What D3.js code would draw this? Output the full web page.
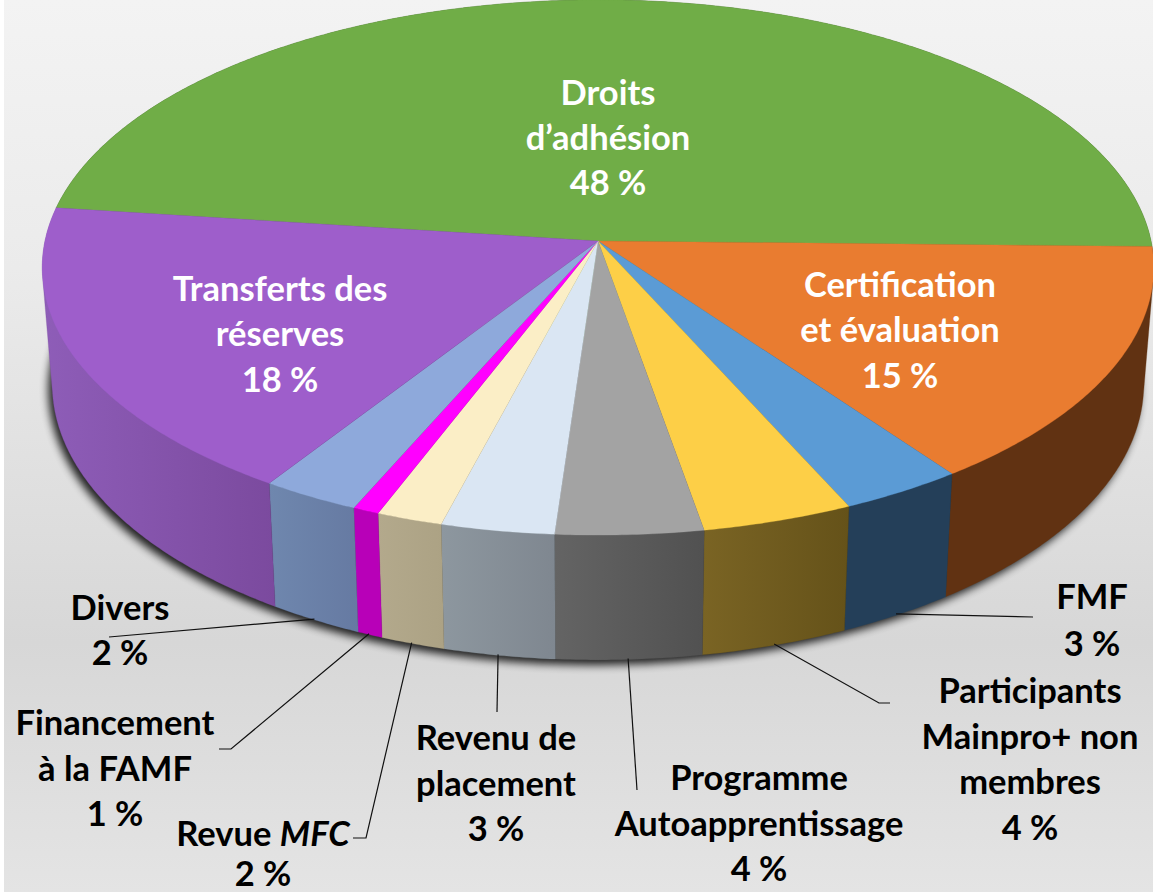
<!DOCTYPE html>
<html><head><meta charset="utf-8">
<script src="https://cdnjs.cloudflare.com/ajax/libs/d3/7.8.5/d3.min.js"></script>
<style>html,body{margin:0;padding:0;background:#fff}svg{display:block}text{font-family:Lato,Carlito,sans-serif;font-weight:700;text-anchor:middle}</style>
</head><body><div id="chart"></div>
<script>
const categories = ["Droits d’adhésion","Certification et évaluation","FMF","Participants Mainpro+ non membres","Programme Autoapprentissage","Revenu de placement","Revue MFC","Financement à la FAMF","Divers","Transferts des réserves"];
const values = [48.3,14.65,3.25,4,3.9,3,1.75,0.7,2.6,17.85];
const percentLabels = ["48 %","15 %","3 %","4 %","4 %","3 %","2 %","1 %","2 %","18 %"];
const topColors = ["#70ad47","#e97c30","#5b9bd5","#fdcf47","#a3a3a3","#dae6f3","#fbeec6","#ff00ff","#8ea9db","#9e5ecb"];
const wallLeft = ["#3d6027","#613212","#243f59","#7a6424","#646464","#8d979f","#b3a98c","#b800b8","#6f87ae","#8e5db8"];
const wallRight = ["#3d6027","#613212","#243f59","#655219","#515151","#7f8790","#aca284","#b800b8","#667aa2","#7b4a9e"];

const W=1153,H=892,apex=[598,241],A=553,B=265,K=0.099;
const svg=d3.select("#chart").append("svg").attr("width",W).attr("height",H);
const defs=svg.append("defs");
const bg=defs.append("linearGradient").attr("id","bg").attr("x1",0).attr("x2",0).attr("y1",0).attr("y2",1);
[[0,"#f3f3f3"],[0.3,"#ebebeb"],[0.72,"#d7d7d7"],[1,"#e4e4e4"]].forEach(s=>bg.append("stop").attr("offset",s[0]).attr("stop-color",s[1]));
defs.append("filter").attr("id","blur").attr("x","-10%").attr("y","-10%").attr("width","120%").attr("height","120%")
  .append("feGaussianBlur").attr("stdDeviation",4.5);
svg.append("rect").attr("width",W).attr("height",H).attr("fill","#fff");
svg.append("rect").attr("x",4).attr("width",W-4).attr("height",H).attr("fill","url(#bg)");

const rad=d3.scaleLinear().domain([0,360]).range([0,2*Math.PI]);
const pie=d3.pie().sort(null).value(d=>d).startAngle(rad(-82.7)).endAngle(rad(277.3));
const arcs=pie(values);
function project(a){const u=Math.sin(a),v=-Math.cos(a),w=1-K*v;return [A*u/w,B*v/w];}
function topPt(a){const p=project(a);return [apex[0]+p[0],apex[1]+p[1]];}
function basePt(a){const p=project(a);return [apex[0]+0.982*p[0],apex[1]+1.03*p[1]+116];}
const line=d3.line();
function samples(a0,a1){const n=Math.max(2,Math.ceil((a1-a0)/rad(0.5)));return d3.range(n+1).map(i=>a0+(a1-a0)*i/n);}

// shadow
const whole=samples(rad(-90),rad(270));
svg.append("path").attr("d",line(whole.map(basePt))+"Z").attr("fill","#000").attr("opacity",0.85)
  .attr("transform","translate(-4,5)").attr("filter","url(#blur)");

// walls: hull of each slice's top and base rim, so the side silhouettes are straight
arcs.forEach((d,i)=>{
  const g=defs.append("linearGradient").attr("id","w"+i);
  g.append("stop").attr("offset",0).attr("stop-color",wallLeft[i]);
  g.append("stop").attr("offset",1).attr("stop-color",wallRight[i]);
  const s=samples(d.startAngle,d.endAngle);
  const pts=d3.polygonHull(s.map(topPt).concat(s.map(basePt)));
  svg.append("path").attr("d",line(pts)+"Z").attr("fill","url(#w"+i+")")
    .attr("stroke",wallRight[i]).attr("stroke-width",0.3);
});
// top faces
arcs.forEach((d,i)=>{
  const pts=[apex].concat(samples(d.startAngle,d.endAngle).map(topPt));
  svg.append("path").attr("d",line(pts)+"Z").attr("fill",topColors[i]).attr("stroke",topColors[i]).attr("stroke-width",0.3);
});

// leader lines: start on the slice's lower rim, then elbow points
const elbows={2:[[1033,617]],3:[[879,703],[890,703]],4:[[637,790]],5:[[497,712]],6:[[366,838],[353,838]],7:[[231,749],[219,749]],8:[[109,637]]};
Object.keys(elbows).forEach(k=>{
  const d=arcs[+k],m=(d.startAngle+d.endAngle)/2,b=basePt(m);
  svg.append("path").attr("d",line([[b[0]-1,b[1]-1]].concat(elbows[k]))).attr("fill","none").attr("stroke","#111").attr("stroke-width",1.2);
});

// labels: [index, cx, first baseline, line step, lines, colour]
const FS=34.5;
const labelSpecs=[
 [0,608,104.5,45,["Droits","d’adhésion"],"#fff"],
 [1,900,296.5,45.5,["Certification","et évaluation"],"#fff"],
 [9,280,300.5,45.5,["Transferts des","réserves"],"#fff"],
 [8,120,619.5,45,["Divers"],"#000"],
 [7,115,735,45.5,["Financement","à la FAMF"],"#000"],
 [6,263,846,39.5,["Revue <i>MFC</i>"],"#000"],
 [5,496,750,45.5,["Revenu de","placement"],"#000"],
 [4,759,790,45.5,["Programme","Autoapprentissage"],"#000"],
 [3,1030,703,45.5,["Participants","Mainpro+ non","membres"],"#000"],
 [2,1092,609,47,["FMF"],"#000"]
];
labelSpecs.forEach(s=>{
  const [idx,cx,y0,step,lines,col]=s;
  lines.concat([percentLabels[idx]]).forEach((t,j)=>{
    const el=svg.append("text").attr("x",cx).attr("y",y0+j*step).attr("font-size",FS).attr("fill",col);
    if(t.includes("<i>")){el.append("tspan").text("Revue ");el.append("tspan").attr("font-style","italic").text("MFC");}
    else el.text(t);
  });
});
</script></body></html>
